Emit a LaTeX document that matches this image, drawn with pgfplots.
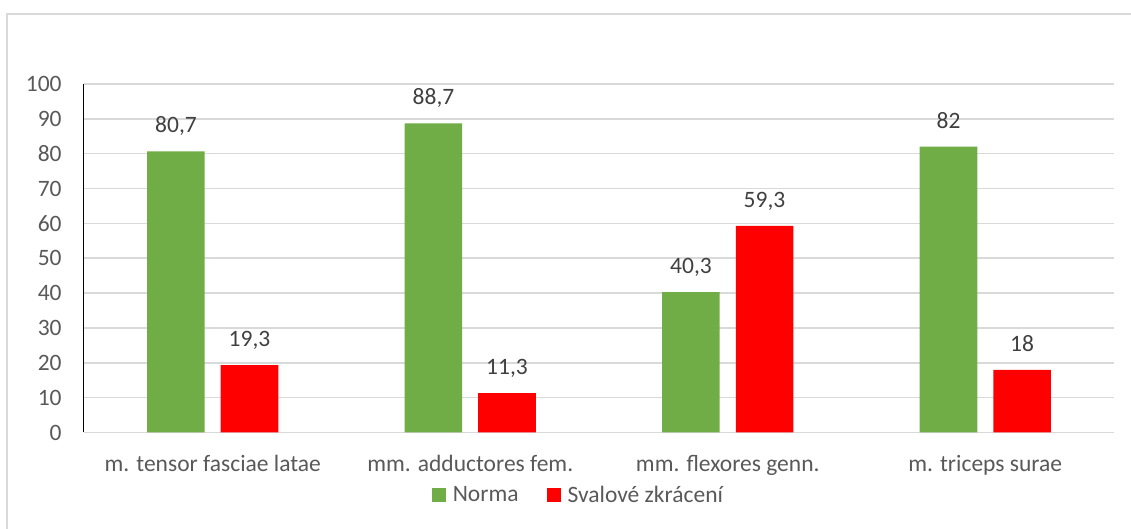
\documentclass[border=0pt]{standalone}
\usepackage{fontspec}
\setmainfont{Carlito}
\usepackage{pgfplots}
\pgfplotsset{compat=1.18}
\definecolor{grn}{HTML}{70AD47}
\definecolor{rd}{HTML}{FF0000}
\definecolor{txt}{HTML}{595959}
\definecolor{lbl}{HTML}{404040}
\definecolor{grd}{HTML}{D9D9D9}
\begin{document}
\begin{tikzpicture}
\useasboundingbox (0,0) rectangle (565.5pt,264.5pt);
\draw[grd, line width=0.6pt] (3.5pt,-5pt) rectangle (570pt,257.5pt);
\begin{axis}[
  at={(42pt,48.25pt)}, anchor=south west,
  scale only axis, width=515pt, height=174.25pt,
  xmin=-0.5, xmax=3.5, ymin=0, ymax=100,
  xtick={0,1,2,3},
  xticklabels={m. tensor fasciae latae, mm. adductores fem., mm. flexores genn., m. triceps surae},
  ytick={0,10,...,100},
  major tick length=0pt,
  axis x line=bottom, axis y line=left,
  x axis line style={grd, line width=0.75pt, -},
  y axis line style={black, line width=0.5pt, -},
  ymajorgrids, grid style={grd, line width=0.75pt},
  tick label style={font=\fontsize{11.75}{14}\selectfont, text=txt},
  yticklabel style={anchor=east, inner sep=0pt, xshift=-11pt},
  xticklabel style={anchor=base, inner sep=0pt, yshift=-19.5pt},
  /pgf/number format/.cd, use comma, 1000 sep={}, assume math mode=true, /pgfplots/.cd,
  every node near coord/.append style={anchor=base, inner sep=0pt, yshift=9.35pt, font=\fontsize{11.75}{14}\selectfont, text=lbl},
  legend columns=2,
  legend style={draw=none, fill=none, at={(0.479,-0.182)}, anchor=center,
    font=\fontsize{11.75}{14}\selectfont, text=txt,
    nodes={inner sep=0pt},
    column sep=3.5pt,
    /tikz/every even column/.append style={column sep=14pt}},
  legend image code/.code={\fill[#1] (0pt,-3pt) rectangle (7pt,4pt);},
  clip=false,
]
\addplot[ybar, bar width=28.75pt, bar shift=-18.375pt, fill=grn, draw=none, nodes near coords,
  every node near coord/.append style={xshift=-18.375pt}]
  coordinates {(0,80.7) (1,88.7) (2,40.3) (3,82)};
\addlegendentry{Norma}
\addplot[ybar, bar width=28.75pt, bar shift=18.375pt, fill=rd, draw=none, nodes near coords,
  every node near coord/.append style={xshift=18.375pt}]
  coordinates {(0,19.3) (1,11.3) (2,59.3) (3,18)};
\addlegendentry{Svalové zkrácení}
\end{axis}
\end{tikzpicture}
\end{document}
